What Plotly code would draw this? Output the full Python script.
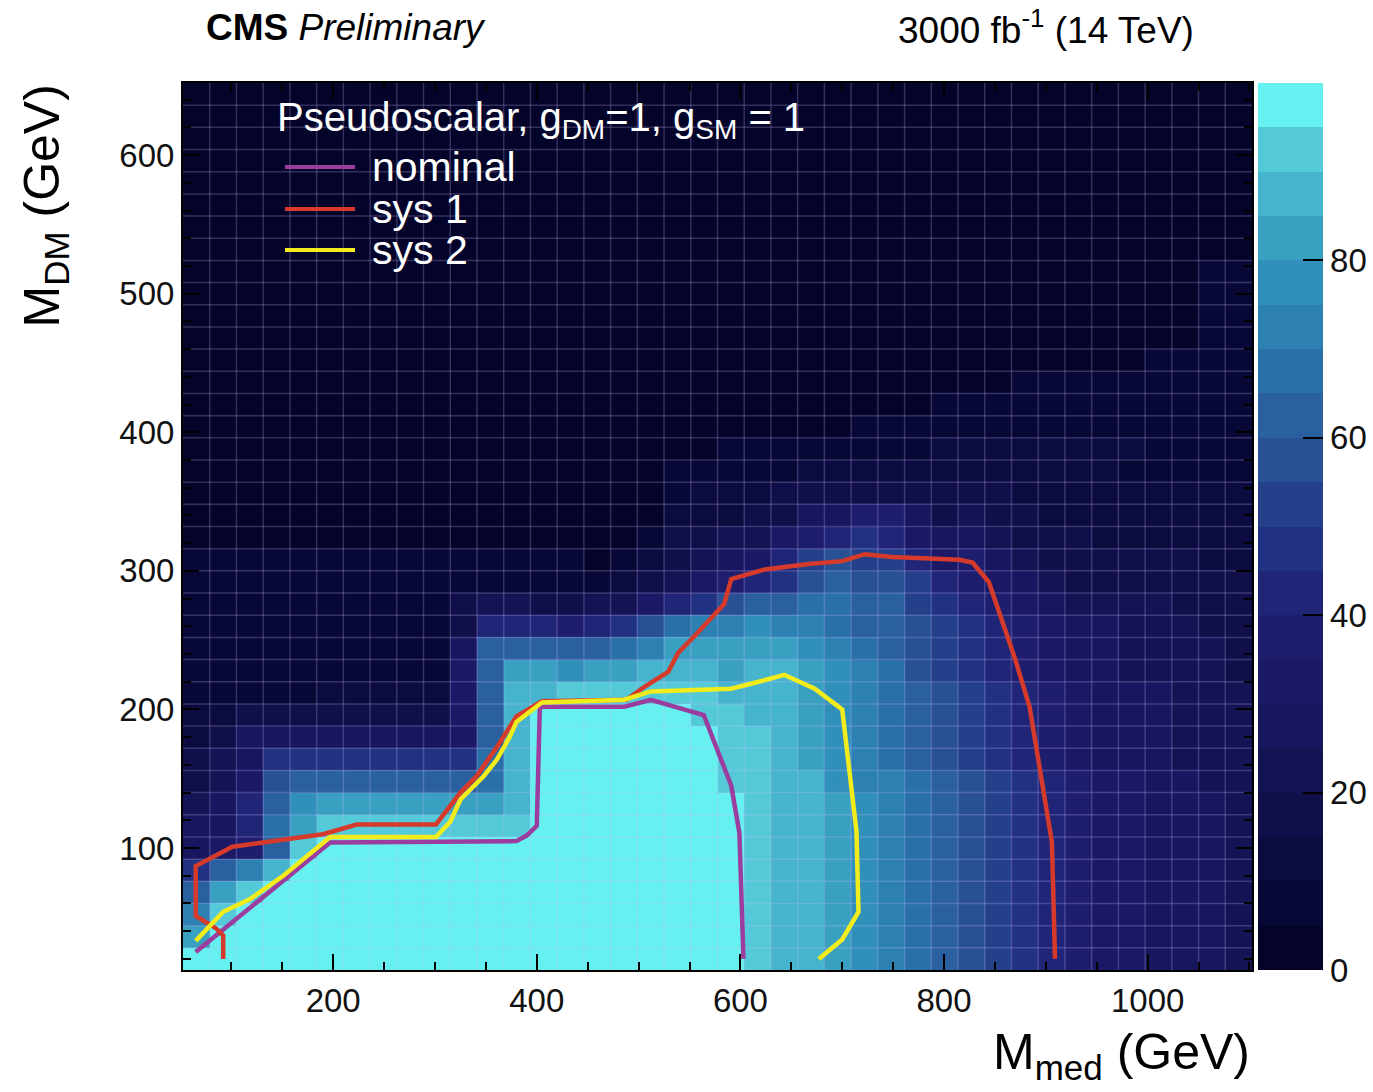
import plotly.graph_objects as go

# ---------------- binning of the scan ----------------
x_start, x_bin, n_x = 52.5, 26.25, 40
y_start, y_bin, n_y = 12.0, 16.0, 40
x_edges = [x_start + x_bin * i for i in range(n_x + 1)]
y_edges = [y_start + y_bin * j for j in range(n_y + 1)]

# ---------------- heat-map values (rows = M_DM bins, bottom -> top) ----------------
z_rows = [
    [98,98,98,98,98,98,98,98,98,98,98,98,98,98,98,98,98,98,98,98,98,93,88,88,83,78,73,68,63,58,53,48,43,38,33,33,28,28,28,23],
    [83,98,98,98,98,98,98,98,98,98,98,98,98,98,98,98,98,98,98,98,98,93,88,88,83,78,73,68,63,58,53,48,43,38,33,33,28,28,28,23],
    [73,93,98,98,98,98,98,98,98,98,98,98,98,98,98,98,98,98,98,98,98,93,88,88,83,78,73,68,63,58,53,48,43,38,33,33,28,28,28,23],
    [63,83,93,98,98,98,98,98,98,98,98,98,98,98,98,98,98,98,98,98,98,93,88,88,83,78,73,68,63,58,53,48,43,38,33,33,28,28,28,23],
    [48,63,73,88,98,98,98,98,98,98,98,98,98,98,98,98,98,98,98,98,98,93,88,88,83,78,73,68,63,58,53,48,43,38,33,33,28,28,28,23],
    [28,33,38,63,93,98,98,98,98,98,98,98,98,98,98,98,98,98,98,98,98,93,88,88,83,78,73,68,63,58,53,48,43,38,33,33,28,28,28,23],
    [28,28,43,68,83,93,93,93,93,93,93,93,93,98,98,98,98,98,98,98,98,93,88,88,83,78,73,68,63,58,53,48,43,38,33,33,28,28,28,23],
    [23,28,43,63,78,83,83,83,83,83,83,83,88,98,98,98,98,98,98,98,98,93,88,88,83,78,73,68,63,58,53,48,43,38,33,33,28,28,28,23],
    [18,23,33,58,63,63,63,63,63,63,63,68,88,98,98,98,98,98,98,98,93,93,88,88,78,73,73,68,63,58,53,48,43,38,33,33,28,28,23,23],
    [18,23,28,48,48,48,48,48,48,48,48,68,88,98,98,98,98,98,98,98,93,93,88,83,78,73,68,63,58,53,48,43,38,33,28,28,28,23,23,23],
    [13,18,28,28,28,28,28,28,28,28,33,63,88,98,98,98,98,98,98,98,93,93,88,83,78,73,68,63,58,53,48,43,38,33,28,28,28,23,23,23],
    [13,13,18,18,18,18,18,18,18,18,33,63,88,98,98,98,98,98,98,93,93,88,88,83,78,73,68,63,58,53,48,43,38,33,28,28,28,23,23,23],
    [8,8,8,8,8,13,13,13,13,13,33,63,88,88,93,93,93,93,93,93,88,88,88,83,78,73,68,63,58,53,48,43,38,33,28,28,28,23,23,23],
    [8,8,8,8,8,8,8,8,8,8,33,63,83,83,78,83,83,88,88,88,83,88,88,83,78,73,68,58,53,48,43,38,33,28,28,23,23,23,23,18],
    [8,8,8,8,8,8,8,8,8,8,28,63,63,63,63,63,68,73,83,83,83,83,83,78,73,68,63,58,53,48,43,38,33,28,28,23,23,23,23,18],
    [8,8,8,8,8,8,8,8,8,8,18,43,43,43,38,43,48,58,68,73,73,78,73,73,68,63,63,58,53,48,43,38,33,28,28,23,23,23,18,18],
    [8,8,8,8,8,8,8,8,8,8,18,23,23,18,18,23,23,33,43,48,58,63,63,68,68,63,63,53,48,43,38,33,28,23,23,23,23,18,18,18],
    [8,8,8,8,8,8,8,8,8,8,8,8,8,8,8,8,13,18,23,33,38,43,48,58,63,58,58,53,43,38,33,28,23,18,18,18,18,18,18,18],
    [8,8,8,8,8,8,8,8,8,8,8,8,8,8,8,3,8,13,18,23,28,33,43,53,58,53,53,43,33,38,28,23,18,18,18,18,18,18,13,13],
    [3,3,3,3,3,3,3,3,3,3,3,3,3,3,3,3,3,8,18,18,23,23,33,38,43,48,43,33,28,28,23,18,18,18,13,13,13,13,13,13],
    [3,3,3,3,3,3,3,3,3,3,3,3,3,3,3,3,3,3,13,13,13,18,18,28,28,38,38,28,18,23,18,18,13,13,13,13,13,13,13,13],
    [3,3,3,3,3,3,3,3,3,3,3,3,3,3,3,3,3,3,8,13,13,13,18,18,18,18,18,18,18,18,18,13,13,13,13,13,13,13,13,13],
    [3,3,3,3,3,3,3,3,3,3,3,3,3,3,3,3,3,3,8,8,8,8,8,13,13,13,13,13,13,13,13,13,13,13,13,8,8,8,8,8],
    [3,3,3,3,3,3,3,3,3,3,3,3,3,3,3,3,3,3,3,3,8,8,8,8,8,8,8,8,13,13,13,13,13,13,13,13,8,8,8,8],
    [3,3,3,3,3,3,3,3,3,3,3,3,3,3,3,3,3,3,3,3,3,3,3,3,3,8,8,8,8,8,8,8,8,8,8,8,8,8,8,8],
    [3,3,3,3,3,3,3,3,3,3,3,3,3,3,3,3,3,3,3,3,3,3,3,3,3,3,3,3,8,8,8,8,8,8,8,8,8,8,8,8],
    [3,3,3,3,3,3,3,3,3,3,3,3,3,3,3,3,3,3,3,3,3,3,3,3,3,3,3,3,3,3,3,8,8,8,8,8,8,8,8,8],
    [3,3,3,3,3,3,3,3,3,3,3,3,3,3,3,3,3,3,3,3,3,3,3,3,3,3,3,3,3,3,3,3,3,3,3,3,8,8,8,8],
    [3,3,3,3,3,3,3,3,3,3,3,3,3,3,3,3,3,3,3,3,3,3,3,3,3,3,3,3,3,3,3,3,3,3,3,3,3,3,8,8],
    [3,3,3,3,3,3,3,3,3,3,3,3,3,3,3,3,3,3,3,3,3,3,3,3,3,3,3,3,3,3,3,3,3,3,3,3,3,3,8,8],
    [3,3,3,3,3,3,3,3,3,3,3,3,3,3,3,3,3,3,3,3,3,3,3,3,3,3,3,3,3,3,3,3,3,3,3,3,3,3,8,8],
    [3,3,3,3,3,3,3,3,3,3,3,3,3,3,3,3,3,3,3,3,3,3,3,3,3,3,3,3,3,3,3,3,3,3,3,3,3,3,8,8],
    [3,3,3,3,3,3,3,3,3,3,3,3,3,3,3,3,3,3,3,3,3,3,3,3,3,3,3,3,3,3,3,3,3,3,3,3,3,3,3,3],
    [3,3,3,3,3,3,3,3,3,3,3,3,3,3,3,3,3,3,3,3,3,3,3,3,3,3,3,3,3,3,3,3,3,3,3,3,3,3,3,3],
    [3,3,3,3,3,3,3,3,3,3,3,3,3,3,3,3,3,3,3,3,3,3,3,3,3,3,3,3,3,3,3,3,3,3,3,3,3,3,3,3],
    [3,3,3,3,3,3,3,3,3,3,3,3,3,3,3,3,3,3,3,3,3,3,3,3,3,3,3,3,3,3,3,3,3,3,3,3,3,3,3,3],
    [3,3,3,3,3,3,3,3,3,3,3,3,3,3,3,3,3,3,3,3,3,3,3,3,3,3,3,3,3,3,3,3,3,3,3,3,3,3,3,3],
    [3,3,3,3,3,3,3,3,3,3,3,3,3,3,3,3,3,3,3,3,3,3,3,3,3,3,3,3,3,3,3,3,3,3,3,3,3,3,3,3],
    [3,3,3,3,3,3,3,3,3,3,3,3,3,3,3,3,3,3,3,3,3,3,3,3,3,3,3,3,3,3,3,3,3,3,3,3,3,3,3,3],
    [3,3,3,3,3,3,3,3,3,3,3,3,3,3,3,3,3,3,3,3,3,3,3,3,3,3,3,3,3,3,3,3,3,3,3,3,3,3,3,3],
]

# ---------------- exclusion contours ----------------
nominal_x = [65, 197, 380, 390, 400, 403, 486, 512, 564, 591, 599, 603]
nominal_y = [25, 104, 105, 109, 116, 202, 202, 207, 196, 145, 111, 20]

sys1_x = [92, 92, 85, 65, 65, 101, 131, 190, 223, 301, 325, 341, 361, 380, 405, 488, 505,
          529, 539, 555, 584, 591, 624, 667, 700, 722, 749, 815, 828, 844, 870, 884, 906, 909]
sys1_y = [20, 37, 42, 51, 87, 101, 104, 110, 117, 117, 140, 152, 173, 195, 206, 207, 216,
          227, 241, 253, 276, 294, 301, 305, 307, 312, 310, 308, 306, 292, 236, 202, 104, 20]

sys2_x = [65, 92, 118, 151, 197, 301, 315, 325, 348, 361, 374, 380, 405, 486, 512, 591,
          618, 643, 673, 700, 714, 716, 700, 677]
sys2_y = [33, 54, 63, 80, 108, 108, 119, 135, 152, 164, 181, 191, 205, 207, 213, 215,
          220, 225, 215, 200, 112, 54, 34, 20]

contour_names = ["nominal", "sys 1", "sys 2"]
contour_colors = ["#9b3d9e", "#d63a2a", "#f2ec1c"]

# ---------------- palette (20 discrete bands, 0..100) ----------------
band_colors = ["#04042a", "#080836", "#0c0b40", "#100f4a", "#141354", "#18165e", "#1b1966",
               "#1e1d6e", "#202578", "#223282", "#24408a", "#285094", "#2a60a0", "#2a70a8",
               "#2c80b2", "#3090ba", "#3aa0c2", "#46b4cc", "#54cad8", "#66f0f0"]
n_b = len(band_colors)
colorscale = []
for k, c in enumerate(band_colors):
    colorscale.append([k / n_b, c])
    colorscale.append([(k + 1) / n_b, c])

cbar_ticks = [0, 20, 40, 60, 80]
x_ticks = [200, 400, 600, 800, 1000]
y_ticks = [100, 200, 300, 400, 500, 600]

FONT = "Liberation Sans, Arial, sans-serif"

fig = go.Figure()
fig.add_trace(go.Heatmap(
    x=x_edges, y=y_edges, z=z_rows, zmin=0, zmax=100, colorscale=colorscale,
    hoverinfo="skip",
    colorbar=dict(x=1.0056, xanchor="left", xpad=0, y=0.5, yanchor="middle", ypad=0,
                  len=1, lenmode="fraction", thickness=65, outlinewidth=0,
                  tickvals=cbar_ticks, ticks="inside", ticklen=20, tickwidth=2,
                  tickcolor="black", tickfont=dict(family=FONT, size=33, color="#111")),
))

# cell borders drawn over the map
gx, gy = [], []
for xe in x_edges[1:-1]:
    gx += [xe, xe, None]
    gy += [y_edges[0], y_edges[-1], None]
for ye in y_edges[1:-1]:
    gx += [x_edges[0], x_edges[-1], None]
    gy += [ye, ye, None]
fig.add_trace(go.Scatter(x=gx, y=gy, mode="lines", hoverinfo="skip", showlegend=False,
                         line=dict(color="rgba(200,190,255,0.24)", width=1.5)))

for cx, cy, name, col in [(nominal_x, nominal_y, contour_names[0], contour_colors[0]),
                          (sys1_x, sys1_y, contour_names[1], contour_colors[1]),
                          (sys2_x, sys2_y, contour_names[2], contour_colors[2])]:
    fig.add_trace(go.Scatter(x=cx, y=cy, mode="lines", name=name, showlegend=False,
                             line=dict(color=col, width=4.5)))

axis_common = dict(showgrid=False, zeroline=False, showline=True, linecolor="black",
                   linewidth=2, mirror="allticks", ticks="inside", ticklen=16, tickwidth=2,
                   tickcolor="black", tickfont=dict(family=FONT, size=33, color="#111"))
fig.update_xaxes(range=[x_edges[0], x_edges[-1]], tickvals=x_ticks,
                 minor=dict(dtick=50, tick0=0, ticks="inside", ticklen=8, tickwidth=2,
                            tickcolor="black"), **axis_common)
fig.update_yaxes(range=[y_edges[0], y_edges[-1]], tickvals=y_ticks,
                 minor=dict(dtick=20, tick0=0, ticks="inside", ticklen=8, tickwidth=2,
                            tickcolor="black"), **axis_common)

# legend (drawn manually, ROOT style)
L, T, W, H = 183, 83, 1069, 887
def px(x): return (x - L) / W
def py(y): return (T + H - y) / H

legend_rows_y = [167, 209, 250]
for name, col, yy in zip(contour_names, contour_colors, legend_rows_y):
    fig.add_shape(type="line", xref="paper", yref="paper", x0=px(285), x1=px(355),
                  y0=py(yy), y1=py(yy), line=dict(color=col, width=4))
    fig.add_annotation(xref="paper", yref="paper", x=px(370), y=py(yy), xanchor="left",
                       yanchor="middle", showarrow=False, text=name,
                       font=dict(family=FONT, size=41, color="white"))

fig.add_annotation(xref="paper", yref="paper", x=px(275), y=py(120), xanchor="left",
                   yanchor="middle", showarrow=False,
                   text="Pseudoscalar, g<sub>DM</sub>=1, g<sub>SM</sub> = 1",
                   font=dict(family=FONT, size=40, color="white"))

fig.add_annotation(xref="paper", yref="paper", x=px(204), y=py(28), xanchor="left",
                   yanchor="middle", showarrow=False,
                   text="<b>CMS</b> <i>Preliminary</i>",
                   font=dict(family=FONT, size=37, color="black"))
fig.add_annotation(xref="paper", yref="paper", x=px(1196), y=py(28), xanchor="right",
                   yanchor="middle", showarrow=False,
                   text="3000 fb<sup>-1</sup> (14 TeV)",
                   font=dict(family=FONT, size=37, color="black"))

fig.add_annotation(xref="paper", yref="paper", x=px(1252), y=py(1022), xanchor="right",
                   yanchor="top", showarrow=False, text="M<sub>med</sub> (GeV)",
                   font=dict(family=FONT, size=50, color="black"))
fig.add_annotation(xref="paper", yref="paper", x=px(45), y=py(83), xanchor="center",
                   yanchor="top", showarrow=False, textangle=-90, text="M<sub>DM</sub> (GeV)",
                   font=dict(family=FONT, size=50, color="black"))

fig.update_layout(width=1373, height=1092, paper_bgcolor="white", plot_bgcolor="white",
                  margin=dict(l=183, r=121, t=83, b=122, autoexpand=False),
                  showlegend=False, font=dict(family=FONT))

fig.write_html("out.html")
